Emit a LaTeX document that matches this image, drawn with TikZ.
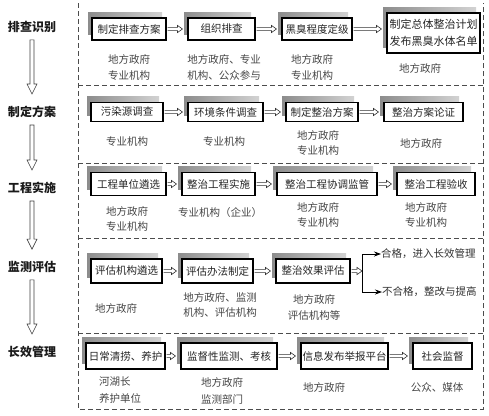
\documentclass[tikz,border=0pt]{standalone}
\usepackage{fontspec}
\newfontfamily\cjk{Noto Sans CJK SC}
\usetikzlibrary{shadows,calc,arrows.meta}
\tikzset{
  stage/.style={font=\cjk\bfseries\fontsize{12}{14}\selectfont, text=black!90, inner sep=0pt},
  box/.style={draw=black, line width=1.1pt, fill=white, text=black!85,
    font=\cjk\fontsize{10.5}{13}\selectfont, inner xsep=1.5pt, inner ysep=0pt,
    general shadow={shadow xshift=-4pt, shadow yshift=6pt, left color=gray!90, right color=gray!35}},
  r1/.style={minimum height=22pt},
  r2/.style={minimum height=19pt},
  r3/.style={minimum height=23pt},
  r4/.style={minimum height=24pt},
  r5/.style={minimum height=26pt},
  who/.style={font=\cjk\fontsize{10.5}{15.5}\selectfont, text=black!72, align=center, inner sep=0pt},
  frame/.style={draw=black!70, line width=1pt, dash pattern=on 5pt off 3pt},
  hollow/.style={draw=black!80, line width=0.6pt, fill=white},
  hollowv/.style={draw=black!75, line width=0.6pt, fill=white},
  outarr/.style={draw=black, line width=0.8pt, -{Stealth[length=7pt,width=5pt]}},
  outtext/.style={font=\cjk\fontsize{10.5}{13}\selectfont, text=black!80, inner sep=0pt, anchor=west}
}
\newcommand\harr[2]{%
  \draw[hollow] let \p1=(#1.east), \p2=(#2.west) in
    (\x1+1pt,\y1+1.6pt) -- (\x2-10pt,\y1+1.6pt) -- (\x2-10pt,\y1+3.6pt) -- (\x2-5pt,\y1)
    -- (\x2-10pt,\y1-3.6pt) -- (\x2-10pt,\y1-1.6pt) -- (\x1+1pt,\y1-1.6pt);}
\newcommand\varr[2]{%
  \draw[hollowv] let \p1=(#1.south), \p2=(#2.north) in
    (\x1-2pt,\y1-7pt) -- (\x1-2pt,\y2+22pt) -- (\x1-5pt,\y2+22pt) -- (\x1,\y2+12pt)
    -- (\x1+5pt,\y2+22pt) -- (\x1+2pt,\y2+22pt) -- (\x1+2pt,\y1-7pt) -- cycle;}
\begin{document}
\begin{tikzpicture}[x=1pt,y=-1pt]
\useasboundingbox (0,0) rectangle (489,415);
\fill[white] (0,0) rectangle (489,415);

% frames
\draw[frame] (78,3) -- (78,409) -- (483,409) -- (483,3);
\foreach \yy in {85,163.5,238,333.5} \draw[frame] (78,\yy) -- (483,\yy);

% stage labels
\node[stage] (s1) at (32,27) {排查识别};
\node[stage] (s2) at (32,112) {制定方案};
\node[stage] (s3) at (32,188) {工程实施};
\node[stage] (s4) at (32,267) {监测评估};
\node[stage] (s5) at (32,352) {长效管理};
\varr{s1}{s2}
\varr{s2}{s3}
\varr{s3}{s4}
\varr{s4}{s5}

% row 1
\node[box,r1,minimum width=74pt] (b11) at (129,29) {制定排查方案};
\node[box,r1,minimum width=67pt] (b12) at (221.5,29) {组织排查};
\node[box,r1,minimum width=70pt] (b13) at (317,29) {黑臭程度定级};
\node[box,minimum width=93pt,minimum height=40pt,align=center,font=\cjk\fontsize{11}{17}\selectfont] (b14) at (433.5,33) {制定总体整治计划\\发布黑臭水体名单};
\harr{b11}{b12}
\harr{b12}{b13}
\harr{b13}{b14}
\node[who] (w11) at (129,67.5) {地方政府\\专业机构};
\node[who] (w12) at (224,67.5) {地方政府、专业\\机构、公众参与};
\node[who] (w13) at (312,67.5) {地方政府\\专业机构};
\node[who] (w14) at (420,68) {地方政府};

% row 2
\node[box,r2,minimum width=72pt] (b21) at (127,112) {污染源调查};
\node[box,r2,minimum width=75pt] (b22) at (225.5,112) {环境条件调查};
\node[box,r2,minimum width=72pt] (b23) at (322,112) {制定整治方案};
\node[box,r2,minimum width=79pt] (b24) at (423.5,112) {整治方案论证};
\harr{b21}{b22}
\harr{b22}{b23}
\harr{b23}{b24}
\node[who] (w21) at (127,142) {专业机构};
\node[who] (w22) at (224,142) {专业机构};
\node[who] (w23) at (318,143) {地方政府\\专业机构};
\node[who] (w24) at (421,143) {地方政府};

% row 3
\node[box,r3,minimum width=75pt] (b31) at (128.5,184) {工程单位遴选};
\node[box,r3,minimum width=73pt] (b32) at (218.5,184) {整治工程实施};
\node[box,r3,minimum width=100pt] (b33) at (327,184) {整治工程协调监管};
\node[box,r3,minimum width=78pt] (b34) at (436,184) {整治工程验收};
\harr{b31}{b32}
\harr{b32}{b33}
\harr{b33}{b34}
\node[who] (w31) at (127,219) {地方政府\\专业机构};
\node[who] (w32) at (220,213) {专业机构（企业）};
\node[who] (w33) at (318,215) {地方政府\\专业机构};
\node[who] (w34) at (426,215) {地方政府\\专业机构};

% row 4
\node[box,r4,minimum width=71pt] (b41) at (126.5,271) {评估机构遴选};
\node[box,r4,minimum width=71pt] (b42) at (217.5,271) {评估办法制定};
\node[box,r4,minimum width=74pt] (b43) at (313,271) {整治效果评估};
\harr{b41}{b42}
\harr{b42}{b43}
\coordinate (jn) at (362,271);
\draw[hollow] let \p1=(b43.east), \p2=(jn) in
  (\x1+1pt,\y1+1.6pt) -- (\x2-5pt,\y1+1.6pt) -- (\x2-5pt,\y1+3.6pt) -- (\x2,\y1)
  -- (\x2-5pt,\y1-3.6pt) -- (\x2-5pt,\y1-1.6pt) -- (\x1+1pt,\y1-1.6pt);
\node[outtext] (ok1) at (381,254) {合格，进入长效管理};
\node[outtext] (ok2) at (382,292) {不合格，整改与提高};
\draw[outarr] (jn) |- (ok1.west);
\draw[outarr] (jn) |- (ok2.west);
\node[who] (w41) at (116,308) {地方政府};
\node[who] (w42) at (220,305) {地方政府、监测\\机构、评估机构};
\node[who] (w43) at (314,307.5) {地方政府\\评估机构等};

% row 5
\node[box,r5,minimum width=79pt] (b51) at (125.5,356) {日常清捞、养护};
\node[box,r5,minimum width=96pt] (b52) at (229,356) {监督性监测、考核};
\node[box,r5,minimum width=87pt] (b53) at (344.5,356) {信息发布举报平台};
\node[box,r5,minimum width=59pt] (b54) at (442.5,356) {社会监督};
\harr{b51}{b52}
\harr{b52}{b53}
\harr{b53}{b54}
\node[who,align=left,font=\cjk\fontsize{10.5}{17}\selectfont] (w51) at (120,390.5) {河湖长\\养护单位};
\node[who,font=\cjk\fontsize{10.5}{17}\selectfont] (w52) at (222,390.5) {地方政府\\监测部门};
\node[who] (w53) at (324,387) {地方政府};
\node[who] (w54) at (437,387) {公众、媒体};
\end{tikzpicture}
\end{document}
